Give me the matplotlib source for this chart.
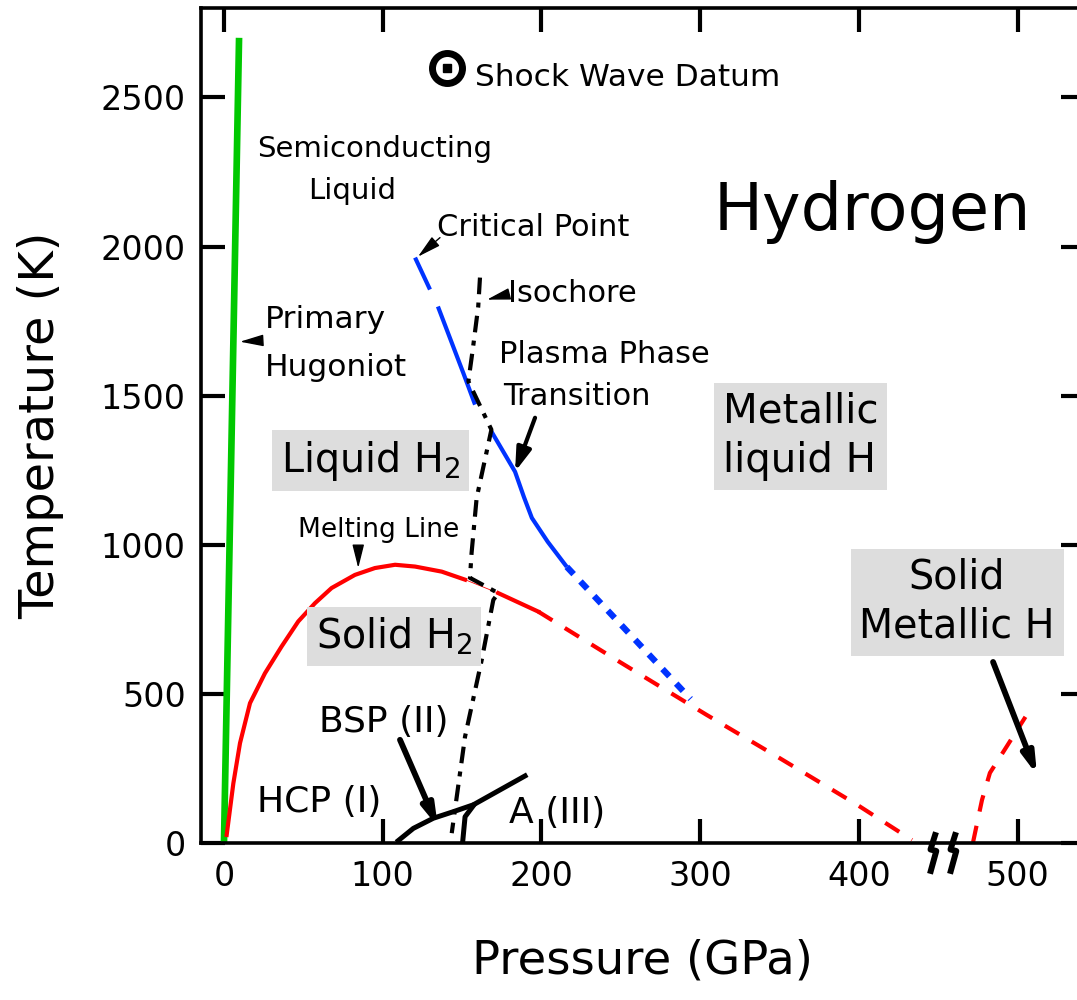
import numpy as np
import matplotlib
matplotlib.use("Agg")
import matplotlib.pyplot as plt
from matplotlib.path import Path

# ---- data (P in GPa, T in K) ----
hugoniot_p = [0, 9.5]
hugoniot_t = [0, 2700]

melt_p = [1.7, 5.9, 10.1, 16.4, 25.8, 36.3, 46.8, 57.3, 67.8, 82.5, 95.1, 107.8, 120.4, 137.2, 151.9]
melt_t = [27, 200, 335, 469, 569, 659, 743, 804, 855, 899, 922, 933, 927, 910, 883]
melt_gap_p = [151.9, 172.8]
melt_gap_t = [883, 838]
melt2_p = [172.8, 198]
melt2_t = [838, 776]
melt_dash_p = [198, 250, 304, 350, 399, 433.5]
melt_dash_t = [776, 605, 430, 285, 128, 10]
metal_melt_p = [472, 477.6, 482.6, 493, 505]
metal_melt_t = [3, 144, 235, 322, 423]

ppt1_p = [120.4, 129.8]
ppt1_t = [1963, 1856]
ppt2_p = [134.8, 150.8, 158.2]
ppt2_t = [1799, 1576, 1470]
ppt3_p = [168.5, 183.4, 189, 194, 204, 216]
ppt3_t = [1380, 1245, 1160, 1090, 1010, 926]
ppt_dot_p = [216, 294]
ppt_dot_t = [926, 483]

isochore_p = [161.3, 160.2, 157, 154, 168.5, 159.2, 156, 155, 172.8, 169.7, 162.4, 151.9, 143.5]
isochore_t = [1896, 1799, 1665, 1548, 1386, 1157, 972, 889, 838, 815, 614, 357, 33]

phase12_p = [109.8, 119.3, 131.9, 144.5, 157.1, 173.9, 189.7]
phase12_t = [8, 49, 83, 105, 128, 178, 225]
phase23_p = [150.4, 151.9, 157.1]
phase23_t = [4, 88, 125]

shock_p = [140.5]
shock_t = [2600]

break_p = [446, 459]

x_ticks = [0, 100, 200, 300, 400, 500]
y_ticks = [0, 500, 1000, 1500, 2000, 2500]

fig = plt.figure(figsize=(10.77, 10), dpi=100)
ax = fig.add_axes([0.1866, 0.157, 0.8208, 0.835])

# curves
ax.plot(hugoniot_p, hugoniot_t, color="#00c800", lw=4.8, solid_capstyle="butt")
ax.plot(melt_p, melt_t, color="red", lw=3, solid_joinstyle="round")
ax.plot(melt_gap_p, melt_gap_t, color="red", lw=0.6)
ax.plot(melt2_p, melt2_t, color="red", lw=3)
ax.plot(melt_dash_p, melt_dash_t, color="red", lw=3, linestyle=(0, (4, 3.5)))
ax.plot(metal_melt_p, metal_melt_t, color="red", lw=3, linestyle=(0, (4, 3.5)))

for pp, tt in [(ppt1_p, ppt1_t), (ppt2_p, ppt2_t), (ppt3_p, ppt3_t)]:
    ax.plot(pp, tt, color="#0033ff", lw=3, solid_capstyle="butt", solid_joinstyle="round")
ax.plot(ppt_dot_p, ppt_dot_t, color="#0033ff", lw=4.5, linestyle=(0, (1.6, 1.6)))

ax.plot(isochore_p, isochore_t, color="black", lw=3, linestyle=(0, (4, 2, 1.2, 2)))

ax.plot(phase12_p, phase12_t, color="black", lw=3.6, solid_joinstyle="round")
ax.plot(phase23_p, phase23_t, color="black", lw=3.6)

ax.plot(shock_p, shock_t, marker="o", ms=21.6, mfc="none", mec="black", mew=5, ls="none")
ax.plot(shock_p, shock_t, marker="s", ms=5.5, color="black", ls="none")

# axis break marks
zig = Path([(3.5, 11.3), (-2.0, -6.0), (3.8, -7.5), (-2.5, -30.3)])
ax.plot(break_p, [0, 0], marker=zig, ms=43.6, mew=4.3, mec="black", mfc="none",
        ls="none", clip_on=False, zorder=5)

# arrows
big = dict(arrowstyle="-|>,head_length=0.6,head_width=0.17", color="black",
           lw=4.2, shrinkA=0, shrinkB=0, mutation_scale=20)
mid = dict(arrowstyle="-|>,head_length=0.7,head_width=0.22", color="black",
           lw=3, shrinkA=0, shrinkB=0, mutation_scale=20)
small = dict(arrowstyle="-|>,head_length=0.72,head_width=0.18", color="black",
             lw=1, shrinkA=0, shrinkB=0, mutation_scale=20)
ax.annotate("", xy=(134.8, 54), xytext=(110.9, 346), arrowprops=big)
ax.annotate("", xy=(512.3, 228), xytext=(484.6, 607), arrowprops=big)
ax.annotate("", xy=(183.4, 1245), xytext=(196, 1426), arrowprops=mid)
ax.annotate("", xy=(122.2, 1966), xytext=(136.1, 2030), arrowprops=small)
ax.annotate("", xy=(165.7, 1822), xytext=(178.3, 1839), arrowprops=small)
ax.annotate("", xy=(10.1, 1681), xytext=(23.9, 1685), arrowprops=small)
ax.annotate("", xy=(84.6, 922), xytext=(84.6, 983), arrowprops=small)

# labels
ax.text(158.2, 2537, "Shock Wave Datum", fontsize=22.5, va="baseline")
ax.text(308.5, 2057, "Hydrogen", fontsize=47, va="baseline")
ax.text(20.8, 2302, "Semiconducting", fontsize=21, va="baseline")
ax.text(52.9, 2161, "Liquid", fontsize=21, va="baseline")
ax.text(134.2, 2034, "Critical Point", fontsize=22, va="baseline")
ax.text(179, 1815, "Isochore", fontsize=22, va="baseline")
ax.text(25.5, 1728, "Primary", fontsize=22.5, va="baseline")
ax.text(25.5, 1567, "Hugoniot", fontsize=22.5, va="baseline")
ax.text(173.3, 1611, "Plasma Phase", fontsize=22, va="baseline")
ax.text(175.8, 1470, "Transition", fontsize=22, va="baseline")
ax.text(46.6, 1027, "Melting Line", fontsize=19, va="baseline")
ax.text(59.9, 372, "BSP (II)", fontsize=26, va="baseline")
ax.text(20.8, 104, "HCP (I)", fontsize=26, va="baseline")
ax.text(179.6, 67, "A (III)", fontsize=26, va="baseline")

box = dict(boxstyle="square,pad=0.22", fc="#dddddd", ec="none")
ax.text(35.8, 1245, "Liquid H$_2$", fontsize=28.5, va="baseline", bbox=box)
ax.text(57.8, 654, "Solid H$_2$", fontsize=28.5, va="baseline", bbox=box)
ax.text(314.4, 1364, "Metallic\nliquid H", fontsize=29, va="center", ha="left",
        linespacing=1.3, bbox=box)
ax.text(461.9, 807, "Solid\nMetallic H", fontsize=28.5, va="center", ha="center",
        multialignment="center", linespacing=1.3, bbox=box)

# axes
ax.set_xlim(-14.5, 542.5)
ax.set_ylim(0, 2800)
ax.set_xticks(x_ticks)
ax.set_yticks(y_ticks)
ax.tick_params(direction="in", length=17, width=3, top=True, right=True, labelsize=24)
ax.tick_params(axis="y", pad=11)
ax.tick_params(axis="x", pad=12)
for s in ax.spines.values():
    s.set_linewidth(2.6)
ax.set_xlabel("Pressure (GPa)", fontsize=33.5)
ax.set_ylabel("Temperature (K)", fontsize=34.5)
ax.xaxis.set_label_coords(0.499, -0.114)
ax.yaxis.set_label_coords(-0.155, 0.5)

fig.savefig("out.png", dpi=100)
